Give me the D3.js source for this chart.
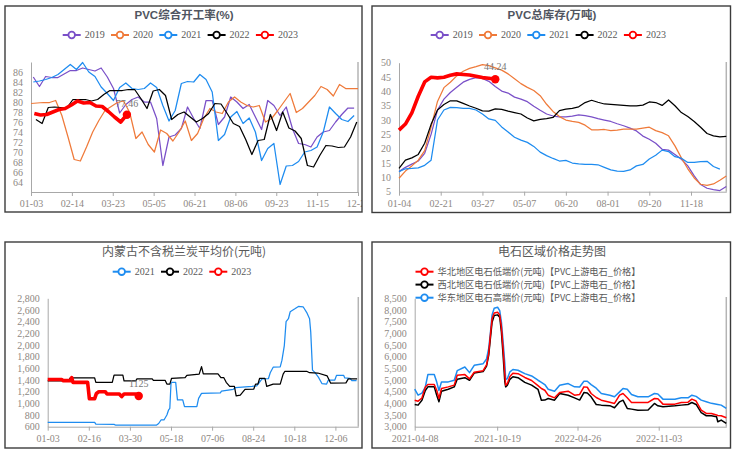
<!DOCTYPE html>
<html><head><meta charset="utf-8">
<script src="https://cdn.jsdelivr.net/npm/d3@7"></script>
<style>body{margin:0;background:#fff}svg{display:block}</style>
</head><body>
<svg id="c" width="736" height="453"></svg>
<script>
// ---------------- DATA ----------------
const years = ["2019","2020","2021","2022","2023"];
// Panel 1: PVC综合开工率(%) weekly
const p1Labels = ["01-03","02-14","03-23","05-05","06-21","08-06","09-23","11-15","12-28"];
const p1_2019 = [85,83.1,85.1,84.9,84.9,85.6,86.3,86.3,86.8,86.5,86.2,86.8,85,82.7,77.8,79.5,80.5,81,80,80,76.7,67.3,73,73.4,74.7,79,76.7,74.7,80.3,80.3,75.5,77,81,80,78.7,79.5,77,74.5,80.3,79.3,77.3,79,74.7,71.7,71.5,71,73,74,74.3,76,77.5,78.8,78.8];
const p1_2020 = [79.7,79.8,79.9,79.9,80.3,77.3,73,68.5,68.2,71,74,76.3,78.3,79.1,79.9,80.2,77.9,72.7,74,71.5,70,74.4,73.7,72.2,74,76.2,72.3,73.7,76.7,78.7,78,77.7,80,81,80,79.3,79,79.3,76,76.7,78.3,80,81.7,77.9,78.7,80,81.3,83.1,82.5,81.2,83.5,82.7,82.7,82.7];
const p1_2021 = [84,84.2,84.5,84.9,85.5,86.5,87.5,86.5,87.9,86,85.1,83,81.7,80.3,82.9,83.8,82.7,82.5,82.7,83.8,82.9,79.3,76.2,78.3,83.7,84.1,84,85.5,84.5,82,72.3,73.5,77,78.1,75.7,76.8,74,68.3,70.7,71.7,63.5,67.2,67.3,68.1,70,70.3,71,74,79,77.7,76.5,76.1,77.3];
const p1_2022 = [76.5,75.7,78.9,79,78.9,78.8,80.5,80.5,80.5,80.2,80.5,81.5,82.3,82.3,82.3,82.5,82.5,80.7,78.7,82.2,82.5,81.3,76.5,77.5,78,77,76,76.7,77.7,79.7,79.6,77.7,75.7,75.1,72.5,69.5,72.3,72.5,77.5,74.3,78,74.8,74.2,72.7,67.3,67,69.3,71.3,71.2,70.9,71,73,76];
const p1_2023 = [77.7,77.4,77.5,78.0,78.5,78.7,79.4,80.2,79.8,79.9,79.2,79.1,78.1,77.0,76.0,77.46];
const p1FirstWeek = [0.37,0,0.37,0.8,0.54];

// Panel 2: PVC总库存(万吨) weekly
const p2Labels = ["01-04","02-21","03-27","05-07","06-20","08-01","09-20","11-18"];
const p2_2019 = [12,13.5,14.6,15.7,18.4,25,33.5,37.3,39.6,41.4,43.2,44.2,44.8,44.5,43.5,41.7,40.1,39.4,38,37.3,36.4,34.8,33.4,32.1,31.4,31.1,31.1,31.4,31.8,31.5,31.1,30.5,30,29.5,28.7,28,27.2,26.2,24.4,23.3,21.9,19.8,19.5,18,16.3,14,10.5,7.5,6.2,5.7,5.4,6.8];
const p2_2020 = [9.7,12.2,14,16,19.3,27.5,36.5,41.3,43.2,45.4,47,48,48.6,49.3,49,48.2,47.4,46.1,44.4,42.7,41.4,40.3,38.5,35.5,33,31.2,30,29.5,29.2,28.2,26.6,26.6,26.7,26.3,26.5,26.8,26.8,26.8,27.2,27.5,26.3,25.6,24.5,21,16.8,13,9.8,7.6,7.2,7.7,9,10.5];
const p2_2021 = [12,13,13.1,13.3,14.2,16,30,33.5,34.4,34.3,34.1,34.1,33.5,32.1,30.4,29.9,27.6,25.8,24,23,22.2,20.8,18.8,17.6,16.6,15.7,15.9,15,14.7,14.5,14.5,14.4,13.5,12.6,12.2,12.1,12.6,14,14.5,16.4,17.7,19.5,19.0,17.2,16.7,15.2,15.2,15.5,15.6,13.8,12.9];
const p2_2022 = [13.1,16,16.8,18,21.9,28.5,33.5,35.4,36.7,36.7,35.8,34.9,34.1,33.2,33.1,33.9,33.7,33.1,32.6,32.1,30.7,29.7,30.2,30.5,30.9,33.3,33.8,34.1,34.6,36.1,36.9,36.2,35.6,35.5,35.3,35.1,34.9,34.9,35.2,36.3,36.1,35.1,37.0,35.0,32.6,31.2,29.5,27.5,25.3,24.5,24.1,24.3];
const p2_2023 = [26.5,28.6,32.5,38.3,43.3,44.9,44.7,44.9,45.6,46.1,45.9,45.7,45.3,44.8,44.6,44.24];
const p2FirstWeek = [0,0,0,0,0];

// Panel 3: 内蒙古不含税兰炭平均价(元吨), [week, value] change points
const p3Labels = ["01-03","02-16","03-30","05-18","07-06","08-24","10-18","12-06"];
const lt2021W = [0,8.0,8.2,11.3,11.6,18.5,18.9,19.3,19.8,20.3,20.6,20.8,21.0,21.2,21.8,22.1,23.0,23.3,25.4,25.7,26.2,29.4,29.6,31.6,32.0,34.8,35.6,35.9,36.5,37.6,37.9,38.4,39.6,39.9,40.3,40.6,41.0,41.3,42.1,42.7,43.5,44.1,44.6,44.8,45.1,45.5,46.1,46.7,47.5,47.8,48.9,49.2,50.4,50.6,51.5,51.8,52.6];
const lt2021V = [675,675,645,640,625,625,655,715,715,800,890,915,1345,1360,1360,1060,1060,945,945,1085,1170,1180,1210,1240,1270,1290,1300,1340,1420,1425,1525,1620,1625,1740,1990,2400,2450,2570,2620,2660,2655,2560,2450,2220,1570,1530,1450,1340,1330,1400,1400,1480,1480,1435,1430,1390,1390];
const lt2022W = [0,3.6,3.8,8.0,8.2,11.0,11.3,12.8,13.0,15.0,15.2,17.8,18.0,20.0,20.3,20.8,21.1,23.4,23.7,25.8,26.2,26.5,29.0,29.5,30.0,30.4,31.0,31.8,32.1,32.8,33.6,35.1,35.4,35.8,36.1,37.0,37.3,38.4,39.6,40.1,40.4,44.1,44.6,46.0,47.6,48.2,50.8,51.2,52.7];
const lt2022V = [1385,1385,1435,1435,1360,1360,1485,1485,1385,1385,1420,1420,1395,1395,1330,1330,1430,1440,1480,1500,1630,1505,1505,1440,1440,1360,1290,1290,1130,1140,1240,1245,1330,1330,1430,1430,1290,1330,1330,1500,1550,1550,1525,1520,1470,1345,1350,1420,1420];
const lt2023W = [0,2.4,2.6,3.9,4.1,4.3,6.8,7.1,8.0,8.3,8.7,9.8,10.1,12.2,12.6,13.0,15.0,15.5];
const lt2023V = [1410,1410,1390,1390,1440,1360,1360,1080,1080,1170,1200,1200,1160,1160,1115,1160,1160,1125];

// Panel 4: 电石区域价格走势图, days since 2021-04-08
const p4Labels = ["2021-04-08","2021-10-19","2022-04-26","2022-11-03"];
const csDays = [0,8,17,25,31,46,52,57,63,79,93,100,118,129,140,161,169,174,178,182,187,195,200,204,208,212,214,218,224,231,243,259,275,290,298,306,314,329,341,361,376,388,398,406,415,427,439,459,470,482,490,500,510,525,549,564,572,584,612,627,643,652,662,674,686,698,710,713,721,733];
const csEast = [4607,4350,4440,4700,5232,5232,4900,4550,4919,4919,4990,5400,5558,5317,5630,5700,5900,6340,7000,7790,8074,8117,7974,7477,6624,5700,5018,5061,5350,5450,5416,5274,5175,4990,4900,4805,4607,4521,4777,4848,4706,4700,4948,4948,4805,4650,4422,4350,4280,4493,4635,4600,4379,4280,4280,4422,4400,4180,4180,4237,4237,4350,4300,4137,4070,4000,3960,3950,3924,3782];
const csNorth = [4137,4094,4230,4700,4805,4805,4550,4210,4635,4706,4780,5200,5232,5050,5330,5400,5650,6127,6909,7619,7875,7903,7790,7264,6340,5274,4777,4848,5150,5290,5270,5110,4980,4760,4635,4560,4350,4237,4464,4521,4350,4380,4706,4690,4422,4250,4137,4050,3995,4350,4422,4237,4038,4038,4038,4208,4200,3967,3967,4038,4050,4180,4100,3711,3569,3569,3498,3480,3469,3384];
const csNorthwest = [3953,3924,4130,4550,4706,4706,4340,4070,4521,4607,4706,5033,5100,4990,5300,5360,5600,6056,6766,7477,7761,7790,7690,7050,6056,4919,4706,4777,5030,5140,5100,4900,4780,4600,4137,4140,4208,4137,4422,4350,4237,4140,4464,4440,4280,3952,3924,3900,3810,4066,4137,3782,3753,3700,3711,3995,3895,3853,3895,3924,3950,4038,3952,3600,3469,3469,3427,3213,3284,3142];
const p4Names = ["华北地区电石低端价(元吨)【PVC上游电石_价格】","西北地区电石低端价(元吨)【PVC上游电石_价格】","华东地区电石高端价(元吨)【PVC上游电石_价格】"];

// ---------------- STYLE ----------------
const colors = {"2019":"#7a50c8","2020":"#ef7a3a","2021":"#1e8cf0","2022":"#000000","2023":"#ff0000"};
const serif = "'Liberation Serif','DejaVu Serif',serif";
const cjk = "'Noto Sans CJK SC','Liberation Sans',sans-serif";
const tickCol = "#8e8883";
const txtCol = "#595959";

const svg = d3.select("#c");
const defs = svg.append("defs");

function makePanel(id, b){
  defs.append("clipPath").attr("id", id).append("rect")
    .attr("x", b.x).attr("y", b.y).attr("width", b.w).attr("height", b.h);
  const g = svg.append("g").attr("clip-path", `url(#${id})`);
  svg.append("rect").attr("x", b.x).attr("y", b.y).attr("width", b.w).attr("height", b.h)
    .attr("fill", "none").attr("stroke", "#3c3c3c").attr("stroke-width", 1.4);
  return g;
}
function title(g, x, y, t, bold){
  g.append("text").attr("x", x).attr("y", y).attr("text-anchor", "middle")
    .attr("font-family", bold ? "'Liberation Sans','Noto Sans CJK SC',sans-serif" : cjk)
    .attr("font-weight", bold ? "bold" : "normal")
    .attr("font-size", bold ? 11.5 : 12).attr("fill", bold ? "#505560" : txtCol).text(t);
}
function yAxis(g, y, x0, ticks, fmt){
  const ax = g.append("g").attr("transform", `translate(${x0},0)`)
    .call(d3.axisLeft(y).tickValues(ticks).tickSize(0).tickPadding(8).tickFormat(fmt));
  ax.select(".domain").attr("stroke", "#a8a8a8");
  ax.selectAll("text").attr("fill", tickCol).attr("font-family", serif).attr("font-size", 10);
}
function xAxis(g, x, y0, ticks, fmt){
  const ax = g.append("g").attr("transform", `translate(0,${y0})`)
    .call(d3.axisBottom(x).tickValues(ticks).tickSize(4).tickSizeOuter(0).tickPadding(4).tickFormat(fmt));
  ax.select(".domain").attr("stroke", "#a8a8a8");
  ax.selectAll(".tick line").attr("stroke", "#a8a8a8");
  ax.selectAll("text").attr("fill", tickCol).attr("font-family", serif).attr("font-size", 10);
}
function rightLine(g, x, y0, y1){
  g.append("line").attr("x1", x).attr("x2", x).attr("y1", y0).attr("y2", y1)
    .attr("stroke", "#b4b4b4").attr("stroke-width", 1.5);
}
function legendItem(g, cx, cy, color, label, font, size){
  g.append("line").attr("x1", cx - 9).attr("x2", cx + 9).attr("y1", cy).attr("y2", cy)
    .attr("stroke", color).attr("stroke-width", 2);
  g.append("circle").attr("cx", cx).attr("cy", cy).attr("r", 3.3)
    .attr("fill", "#fff").attr("stroke", color).attr("stroke-width", 1.8);
  return g.append("text").attr("x", cx + 13).attr("y", cy + 3.4)
    .attr("font-family", font || serif).attr("font-size", size || 10).attr("fill", txtCol).text(label);
}
function endLabel(g, x, y, t){
  g.append("text").attr("x", x).attr("y", y).attr("text-anchor", "middle")
    .attr("font-family", serif).attr("font-size", 10).attr("fill", "#777").text(t);
}

// ---------------- PANEL 1 ----------------
{
  const b = {x:5, y:6, w:357, h:206};
  const g = makePanel("cp1", b);
  title(g, 184, 19, "PVC综合开工率(%)", true);
  years.forEach((yr, i) => legendItem(g, 71.7 + i * 48.3, 35, colors[yr], yr));
  const x = d3.scaleLinear().domain([0, 53]).range([31, 358]);
  const y = d3.scaleLinear().domain([62, 88]).range([192, 62]);
  yAxis(g, y, 31, d3.range(64, 87, 2), d3.format("d"));
  const tickW = p1Labels.map((d, i) => i * 53 / 8);
  xAxis(g, x, 192, tickW, (d, i) => p1Labels[i]);
  rightLine(g, 358, 62, 192);
  const series = [p1_2019, p1_2020, p1_2021, p1_2022, p1_2023];
  series.forEach((s, si) => {
    const line = d3.line().x((d, i) => x(p1FirstWeek[si] + i)).y(d => y(d));
    g.append("path").datum(s).attr("fill", "none").attr("stroke", colors[years[si]])
      .attr("stroke-width", si === 4 ? 3.6 : 1.25).attr("stroke-linejoin", "round").attr("d", line);
  });
  const last = p1_2023.length - 1;
  const ex = x(p1FirstWeek[4] + last), ey = y(p1_2023[last]);
  g.append("circle").attr("cx", ex).attr("cy", ey).attr("r", 4.2).attr("fill", colors["2023"]);
  endLabel(g, ex, ey - 8, "77.46");
}

// ---------------- PANEL 2 ----------------
{
  const b = {x:372, y:6, w:358.5, h:206.5};
  const g = makePanel("cp2", b);
  title(g, 552, 19, "PVC总库存(万吨)", true);
  years.forEach((yr, i) => legendItem(g, 368 + 71.7 + i * 48.3, 35, colors[yr], yr));
  const x = d3.scaleLinear().domain([0, 51]).range([399, 726.3]);
  const y = d3.scaleLinear().domain([5, 50]).range([191.7, 62.7]);
  yAxis(g, y, 399, d3.range(5, 51, 5), d3.format("d"));
  const tickW = p2Labels.map((d, i) => i * 6.5);
  xAxis(g, x, 191.7, tickW, (d, i) => p2Labels[i]);
  rightLine(g, 726.3, 62, 191.7);
  const series = [p2_2019, p2_2020, p2_2021, p2_2022, p2_2023];
  series.forEach((s, si) => {
    const line = d3.line().x((d, i) => x(p2FirstWeek[si] + i)).y(d => y(d));
    g.append("path").datum(s).attr("fill", "none").attr("stroke", colors[years[si]])
      .attr("stroke-width", si === 4 ? 3.6 : 1.25).attr("stroke-linejoin", "round").attr("d", line);
  });
  const last = p2_2023.length - 1;
  const ex = x(p2FirstWeek[4] + last), ey = y(p2_2023[last]);
  g.append("circle").attr("cx", ex).attr("cy", ey).attr("r", 4.2).attr("fill", colors["2023"]);
  endLabel(g, ex, ey - 9, "44.24");
}

// ---------------- PANEL 3 ----------------
{
  const b = {x:5, y:242, w:357, h:206};
  const g = makePanel("cp3", b);
  title(g, 184, 256, "内蒙古不含税兰炭平均价(元吨)", false);
  ["2021","2022","2023"].forEach((yr, i) => legendItem(g, 121.7 + i * 48.3, 271.7, colors[yr], yr));
  const x = d3.scaleLinear().domain([0, 52.9]).range([47.7, 358.3]);
  const y = d3.scaleLinear().domain([600, 2800]).range([426.7, 298.3]);
  yAxis(g, y, 47.7, d3.range(600, 2801, 200), d3.format(","));
  const tickW = p3Labels.map((d, i) => i * 7);
  xAxis(g, x, 426.7, tickW, (d, i) => p3Labels[i]);
  rightLine(g, 358.3, 297, 426.7);
  const sets = [[lt2021W, lt2021V, "2021"], [lt2022W, lt2022V, "2022"], [lt2023W, lt2023V, "2023"]];
  sets.forEach(([W, V, yr]) => {
    const pts = W.map((w, i) => [w, V[i]]);
    const line = d3.line().x(d => x(d[0])).y(d => y(d[1]));
    g.append("path").datum(pts).attr("fill", "none").attr("stroke", colors[yr])
      .attr("stroke-width", yr === "2023" ? 3.6 : 1.25).attr("stroke-linejoin", "round").attr("d", line);
  });
  const li = lt2023W.length - 1;
  const ex = x(lt2023W[li]), ey = y(lt2023V[li]);
  g.append("circle").attr("cx", ex).attr("cy", ey).attr("r", 4.2).attr("fill", colors["2023"]);
  endLabel(g, ex, ey - 9, "1125");
}

// ---------------- PANEL 4 ----------------
{
  const b = {x:372, y:242, w:358.5, h:206};
  const g = makePanel("cp4", b);
  title(g, 552, 256, "电石区域价格走势图", false);
  const legCols = ["#ff0000", "#000000", "#1e8cf0"];
  const legY = [271.7, 284.6, 297.7];
  p4Names.forEach((n, i) => legendItem(g, 424.5, legY[i], legCols[i], n, cjk, 9.4)
    .attr("textLength", 203).attr("lengthAdjust", "spacingAndGlyphs"));
  const base = new Date(2021, 3, 8);
  const dt = d => new Date(2021, 3, 8 + d);
  const x = d3.scaleTime().domain([base, dt(733)]).range([414.7, 726.3]);
  const y = d3.scaleLinear().domain([3000, 8500]).range([426.7, 298.3]);
  yAxis(g, y, 414.7, d3.range(3000, 8501, 500), d3.format(","));
  const tickD = p4Labels.map(s => d3.timeParse("%Y-%m-%d")(s));
  xAxis(g, x, 426.7, tickD, d3.timeFormat("%Y-%m-%d"));
  rightLine(g, 726.3, 297, 426.7);
  const series = [[csEast, "#1e8cf0"], [csNorthwest, "#000000"], [csNorth, "#ff0000"]];
  series.forEach(([v, c]) => {
    const line = d3.line().x((d, i) => x(dt(csDays[i]))).y(d => y(d));
    g.append("path").datum(v).attr("fill", "none").attr("stroke", c)
      .attr("stroke-width", 1.5).attr("stroke-linejoin", "round").attr("d", line);
  });
}
</script>
</body></html>
